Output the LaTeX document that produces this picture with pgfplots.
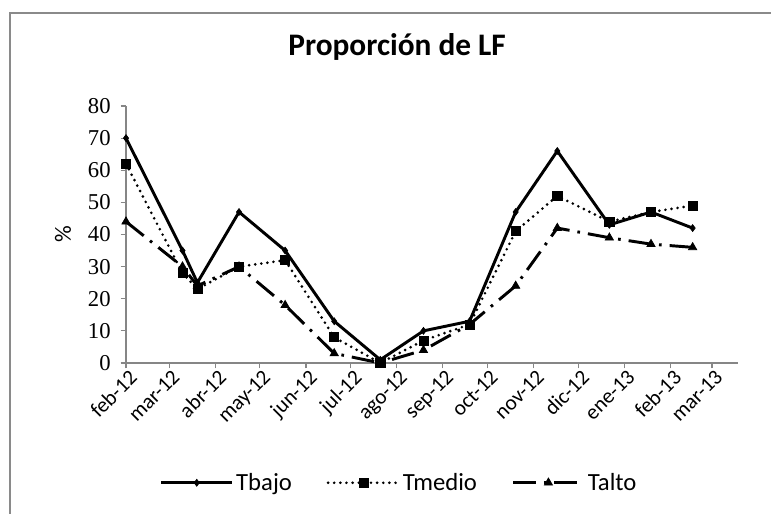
\documentclass[border=0pt]{standalone}
\usepackage{pgfplots}
\pgfplotsset{compat=1.18}
\usepackage{fontspec}
\setmainfont{Carlito}
\newfontfamily\yfont{Liberation Serif}
\definecolor{axisgray}{HTML}{868686}
\definecolor{bordergray}{HTML}{8A8A8A}
\begin{document}
\begin{tikzpicture}
\useasboundingbox (0,0) rectangle (578.25pt,385.5pt);
\draw[line width=1.6pt, color=bordergray] (7.5pt,0) -- (7.5pt,375.5pt) -- (578.25pt,375.5pt);
\begin{axis}[
  at={(94.5pt,113.25pt)}, anchor=south west,
  scale only axis, width=459pt, height=192.75pt,
  xmin=0, xmax=411.5, ymin=0, ymax=80,
  clip=false,
  axis x line*=bottom, axis y line*=left,
  axis line style={-, color=axisgray, line width=0.9pt},
  tick align=outside, major tick length=4pt,
  tick style={color=axisgray, line width=0.9pt},
  xtick={0,29,60,90,121,151,182,213,243,274,304,335,366,394},
  xticklabels={feb-12,mar-12,abr-12,may-12,jun-12,jul-12,ago-12,sep-12,oct-12,nov-12,dic-12,ene-13,feb-13,mar-13},
  xticklabel style={rotate=45, anchor=north east, font=\fontsize{16}{18}\selectfont, inner sep=1pt, xshift=2pt},
  ytick={0,10,20,30,40,50,60,70,80},
  yticklabel style={font=\yfont\fontsize{17}{19}\selectfont, /pgf/number format/assume math mode=true, xshift=-4pt},
  ylabel={\%},
  ylabel style={font=\fontsize{17.5}{19}\selectfont, at={(axis description cs:-0.103,0.5)}, anchor=center},
  title={\textbf{Proporción de LF}},
  title style={font=\fontsize{23.5}{26}\selectfont, at={(axis description cs:0.443,1.198)}, anchor=center},
  legend columns=3,
  legend style={at={(axis description cs:0.447,-0.466)}, anchor=center, draw=none, fill=none,
    font=\fontsize{18.5}{20}\selectfont,
    /tikz/every even column/.append style={column sep=24pt},
    inner sep=0pt},
  legend image code/.code={\draw[mark repeat=2,mark phase=2] plot coordinates {(0pt,0pt) (26.5pt,0pt) (53pt,0pt)};},
]
\addplot[black, line width=2.2pt, mark=diamond*, mark size=2.6pt, mark options={solid, line width=0.5pt}]
  coordinates {(0,70) (38,35) (48,25) (76,47) (107,35) (140,13) (171,1) (200,10) (231,13) (262,47) (290,66) (325,43) (353,47) (381,42)};
\addlegendentry{Tbajo}
\addplot[black, line width=2.2pt, line cap=round, dash pattern=on 0pt off 4.6pt, mark=square*, mark size=3.4pt, mark options={solid, line width=0.5pt}]
  coordinates {(0,62) (38,28) (48,23) (76,30) (107,32) (140,8) (171,0) (200,7) (231,12) (262,41) (290,52) (325,44) (353,47) (381,49)};
\addlegendentry{Tmedio}
\addplot[black, line width=2.2pt, dash pattern=on 17pt off 6pt on 2pt off 6pt, mark=triangle*, mark size=3.6pt, mark options={solid, line width=0.5pt}]
  coordinates {(0,44) (38,30) (48,24) (76,30) (107,18) (140,3) (171,0) (200,4) (231,12) (262,24) (290,42) (325,39) (353,37) (381,36)};
\addlegendentry{Talto}
\end{axis}
\end{tikzpicture}
\end{document}
